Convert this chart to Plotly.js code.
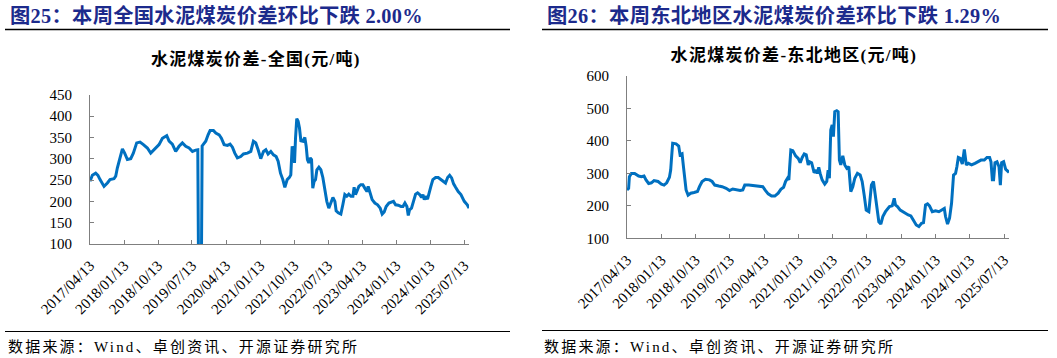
<!DOCTYPE html>
<html><head><meta charset="utf-8">
<script src="https://cdn.plot.ly/plotly-3.0.1.min.js"></script>
<style>html,body{margin:0;padding:0;background:#fff;overflow:hidden}#chart{width:1057px;height:358px}</style>
</head><body><div id="chart"></div>
<script>
const tickLabels = ['2017/04/13','2018/01/13','2018/10/13','2019/07/13','2020/04/13','2021/01/13','2021/10/13','2022/07/13','2023/04/13','2024/01/13','2024/10/13','2025/07/13'];

const natDates = ['2017-04-13','2017-05-02','2017-05-29','2017-06-16','2017-07-03','2017-07-21','2017-08-04','2017-08-31','2017-09-21','2017-10-23','2017-11-06','2017-11-19','2017-12-11','2017-12-30','2018-01-17','2018-02-08','2018-03-07','2018-03-28','2018-04-24','2018-05-21','2018-06-17','2018-07-19','2018-08-15','2018-09-11','2018-10-02','2018-10-21','2018-11-17','2018-12-22','2019-01-10','2019-02-05','2019-03-04','2019-03-31','2019-04-27','2019-05-24','2019-06-20','2019-07-17','2019-08-12','2019-08-29','2019-09-05','2019-09-26','2019-10-03','2019-10-11','2019-11-01','2019-11-20','2019-12-06','2020-01-02','2020-01-21','2020-02-17','2020-03-06','2020-03-28','2020-04-24','2020-05-15','2020-06-03','2020-06-22','2020-07-13','2020-08-09','2020-08-31','2020-10-02','2020-10-29','2020-11-19','2020-12-08','2020-12-27','2021-01-17','2021-02-08','2021-02-27','2021-03-17','2021-04-08','2021-04-29','2021-05-21','2021-06-06','2021-06-25','2021-07-14','2021-07-30','2021-08-18','2021-09-05','2021-09-16','2021-09-27','2021-10-08','2021-10-16','2021-10-24','2021-11-03','2021-11-14','2021-11-25','2021-12-06','2021-12-22','2022-01-07','2022-01-18','2022-01-28','2022-02-08','2022-02-19','2022-03-02','2022-03-12','2022-03-23','2022-04-03','2022-04-14','2022-04-30','2022-05-16','2022-06-01','2022-06-17','2022-07-03','2022-07-19','2022-08-04','2022-08-21','2022-09-06','2022-09-16','2022-10-03','2022-10-24','2022-11-09','2022-11-25','2022-12-11','2022-12-27','2023-01-13','2023-01-29','2023-02-08','2023-02-19','2023-03-02','2023-03-18','2023-04-03','2023-04-19','2023-05-05','2023-05-22','2023-06-01','2023-06-17','2023-07-03','2023-07-25','2023-08-16','2023-09-06','2023-09-22','2023-10-08','2023-10-24','2023-11-15','2023-12-06','2023-12-22','2024-01-08','2024-01-29','2024-02-20','2024-03-07','2024-03-23','2024-04-08','2024-04-19','2024-04-29','2024-05-15','2024-06-01','2024-06-17','2024-07-03','2024-07-19','2024-08-04','2024-08-15','2024-08-26','2024-09-05','2024-09-21','2024-10-02','2024-10-18','2024-11-03','2024-11-25','2024-12-16','2025-01-07','2025-01-28','2025-02-13','2025-03-02','2025-03-18','2025-04-03','2025-04-19','2025-05-05','2025-05-26','2025-06-17','2025-07-03','2025-07-14','2025-08-07','2025-08-14','2025-08-21'];
const natValues = [247,261,266,261,251,243,235,243,251,253,259,278,305,323,313,298,300,313,337,339,333,325,313,321,325,333,348,354,341,334,317,329,337,329,325,317,320,321,0,0,330,333,341,356,366,366,360,356,348,333,331,334,327,313,302,305,311,313,317,341,337,321,300,317,321,311,317,309,305,294,266,251,233,251,256,262,329,317,290,348,394,388,372,342,341,350,329,298,290,302,298,231,247,251,274,280,274,256,227,200,184,196,209,200,178,173,170,192,216,212,217,212,212,233,216,223,235,239,239,231,223,235,220,204,196,192,184,170,175,188,196,198,200,192,191,188,188,196,188,167,180,184,204,217,220,216,209,216,204,212,205,220,235,251,256,256,251,245,243,256,261,255,241,233,223,216,208,200,192,188,184];

const neDates = ['2017-04-13','2017-04-26','2017-05-02','2017-05-18','2017-06-13','2017-07-15','2017-08-06','2017-08-27','2017-09-12','2017-10-03','2017-10-25','2017-11-15','2017-12-17','2018-01-13','2018-02-03','2018-02-24','2018-03-18','2018-03-28','2018-04-03','2018-04-13','2018-05-10','2018-05-31','2018-06-11','2018-06-27','2018-07-08','2018-07-18','2018-07-29','2018-08-14','2018-09-04','2018-10-01','2018-10-28','2018-11-13','2018-12-04','2018-12-31','2019-02-01','2019-02-22','2019-03-15','2019-04-16','2019-05-13','2019-06-14','2019-07-11','2019-08-06','2019-09-07','2019-10-04','2019-10-25','2019-11-10','2019-12-12','2020-01-21','2020-03-01','2020-04-02','2020-04-24','2020-05-15','2020-06-11','2020-07-07','2020-08-03','2020-08-24','2020-09-15','2020-10-01','2020-10-17','2020-10-27','2020-11-02','2020-11-12','2020-11-28','2020-12-20','2021-01-10','2021-01-26','2021-02-11','2021-02-27','2021-03-15','2021-03-31','2021-04-11','2021-04-27','2021-05-17','2021-06-02','2021-06-12','2021-06-23','2021-07-04','2021-07-20','2021-08-10','2021-08-26','2021-09-06','2021-09-16','2021-09-27','2021-10-08','2021-10-18','2021-10-29','2021-11-14','2021-11-25','2021-12-05','2021-12-16','2022-01-01','2022-01-17','2022-02-02','2022-02-18','2022-03-06','2022-03-22','2022-04-07','2022-04-28','2022-05-20','2022-06-05','2022-06-21','2022-07-07','2022-07-28','2022-08-08','2022-08-18','2022-09-03','2022-09-19','2022-09-30','2022-10-16','2022-11-01','2022-11-17','2022-12-08','2022-12-24','2023-01-09','2023-01-31','2023-02-16','2023-02-26','2023-03-14','2023-04-05','2023-04-26','2023-05-17','2023-06-08','2023-06-29','2023-07-20','2023-08-11','2023-09-01','2023-09-22','2023-10-08','2023-10-24','2023-11-09','2023-11-25','2023-12-17','2024-01-12','2024-02-08','2024-03-06','2024-03-22','2024-04-01','2024-04-17','2024-05-03','2024-05-19','2024-06-04','2024-06-20','2024-07-01','2024-07-12','2024-07-28','2024-08-13','2024-08-29','2024-09-14','2024-09-30','2024-10-26','2024-11-22','2024-12-19','2025-01-09','2025-02-05','2025-02-26','2025-03-19','2025-03-30','2025-04-10','2025-04-20','2025-05-01','2025-05-17','2025-06-02','2025-06-13','2025-06-23','2025-07-09','2025-07-25','2025-08-14','2025-08-21'];
const neValues = [249,254,290,300,300,292,290,292,280,269,271,278,275,267,264,271,288,310,343,393,391,384,357,360,321,280,249,233,239,241,244,259,275,282,280,275,264,261,259,254,247,252,249,247,249,264,264,263,261,259,247,237,230,230,239,251,257,275,285,280,316,372,370,354,346,333,349,360,357,326,336,333,302,310,300,319,300,280,267,275,310,285,434,449,413,490,493,490,341,326,354,326,316,321,244,259,285,300,295,275,233,187,182,233,264,275,233,192,151,144,167,182,189,198,200,223,203,198,187,182,175,172,169,156,141,136,146,148,203,206,200,182,185,182,187,192,167,144,162,208,295,300,321,349,346,329,374,326,331,326,331,336,341,341,349,349,336,280,280,333,336,321,264,333,336,313,307,303];

const W = 1057, H = 358;
const px = x => x / W, py = y => 1 - y / H;
const tickDates = tickLabels.map(s => s.replace(/\//g, '-'));
const LATIN_CJK = 'Liberation Serif, "Noto Sans CJK SC", serif';
const axisColor = '#7f7f7f';

function xAxis(x0, x1, anchor) {
  return {
    type: 'date', domain: [px(x0), px(x1)], range: ['2017-04-13', '2025-08-21'], anchor: anchor,
    tickmode: 'array', tickvals: tickDates, ticktext: tickLabels, tickangle: -45,
    ticks: 'inside', ticklen: 4, tickcolor: axisColor, tickwidth: 1,
    showline: true, linecolor: axisColor, linewidth: 1, showgrid: false, zeroline: false,
    tickfont: {family: 'Liberation Serif, serif', size: 15, color: '#000'},
    ticklabelstandoff: 6, fixedrange: true
  };
}
function yAxis(ytop, ybot, range, dtick, anchor) {
  return {
    domain: [py(ybot), py(ytop)], range: range, tick0: range[0], dtick: dtick, anchor: anchor,
    ticks: 'inside', ticklen: 4, tickcolor: axisColor, tickwidth: 1,
    showline: true, linecolor: axisColor, linewidth: 1, showgrid: false, zeroline: false,
    tickfont: {family: 'Liberation Serif, serif', size: 15, color: '#000'},
    ticklabelstandoff: 14, fixedrange: true
  };
}

const lineStyle = {color: '#0070C0', width: 3};
const data = [
  {x: natDates, y: natValues, type: 'scatter', mode: 'lines', line: lineStyle, xaxis: 'x', yaxis: 'y', hoverinfo: 'skip'},
  {x: neDates, y: neValues, type: 'scatter', mode: 'lines', line: lineStyle, xaxis: 'x2', yaxis: 'y2', hoverinfo: 'skip'}
];

function ann(text, x, y, anchor, size, color, bold) {
  return {text: bold ? '<b>' + text + '</b>' : text, xref: 'paper', yref: 'paper', x: px(x), y: py(y),
    xanchor: anchor, yanchor: 'middle', showarrow: false,
    font: {family: LATIN_CJK, size: size, color: color}};
}
function hline(x0, x1, y, w) {
  return {type: 'line', xref: 'paper', yref: 'paper', x0: px(x0), x1: px(x1), y0: py(y), y1: py(y),
    line: {color: '#000', width: w}};
}

// letter spacing and whether the text is left-anchored (needs re-shift)
const letterSpacings = [0.3, 0.3, 1.3, 1.3, 2.2, 2.2];
const leftAnchored = [true, true, false, false, true, true];

const layout = {
  width: W, height: H, margin: {l: 0, r: 0, t: 0, b: 0},
  paper_bgcolor: '#fff', plot_bgcolor: '#fff', showlegend: false,
  xaxis: xAxis(90, 469, 'y'), yaxis: yAxis(94.7, 244, [100, 450], 50, 'x'),
  xaxis2: xAxis(627, 1009, 'y2'), yaxis2: yAxis(76, 238.3, [100, 600], 100, 'x2'),
  annotations: [
    ann('图25：本周全国水泥煤炭价差环比下跌 2.00%', 8, 15, 'left', 20.3, '#1c2a8c', true),
    ann('图26：本周东北地区水泥煤炭价差环比下跌 1.29%', 545, 15, 'left', 20.3, '#1c2a8c', true),
    ann('水泥煤炭价差-全国(元/吨)', 256, 59, 'center', 17, '#000', true),
    ann('水泥煤炭价差-东北地区(元/吨)', 794, 55, 'center', 17, '#000', true),
    ann('数据来源：Wind、卓创资讯、开源证券研究所', 6, 347, 'left', 15, '#000', false),
    ann('数据来源：Wind、卓创资讯、开源证券研究所', 542, 347, 'left', 15, '#000', false)
  ],
  shapes: [
    hline(5, 510, 29.5, 1.5), hline(542, 1048, 29.5, 1.5),
    hline(5, 510, 331.5, 1), hline(542, 1048, 330.5, 1)
  ]
};
Plotly.newPlot('chart', data, layout, {displayModeBar: false, staticPlot: true}).then(gd => {
  gd.querySelectorAll('.annotation-text').forEach((el, i) => {
    if (!letterSpacings[i]) return;
    const before = el.getBBox().width;
    el.style.letterSpacing = letterSpacings[i] + 'px';
    const after = el.getBBox().width;
    if (leftAnchored[i]) {
      const shift = (after - before) / 2;
      el.setAttribute('x', parseFloat(el.getAttribute('x') || 0) + shift);
      el.querySelectorAll('tspan[x]').forEach(t => t.setAttribute('x', parseFloat(t.getAttribute('x')) + shift));
    }
  });
});
</script></body></html>
